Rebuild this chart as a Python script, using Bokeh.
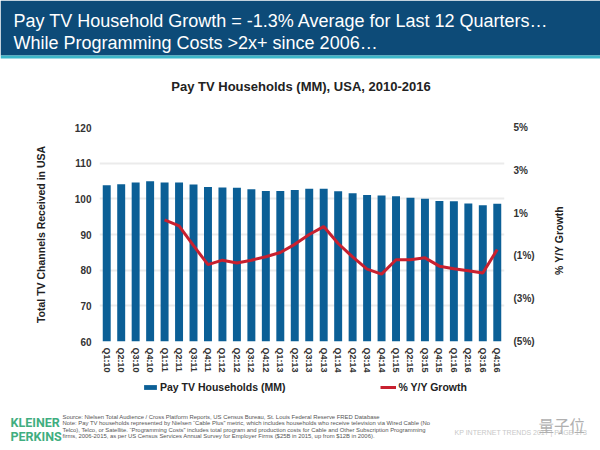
import math
from bokeh.plotting import figure
from bokeh.models import (Range1d, FactorRange, LinearAxis, FixedTicker, Legend,
                          LegendItem, Label, BoxAnnotation)
from bokeh.layouts import column, row
from bokeh.embed import file_html
from bokeh.resources import INLINE

# ---------------- data ----------------
quarters = ["Q1:10", "Q2:10", "Q3:10", "Q4:10",
            "Q1:11", "Q2:11", "Q3:11", "Q4:11",
            "Q1:12", "Q2:12", "Q3:12", "Q4:12",
            "Q1:13", "Q2:13", "Q3:13", "Q4:13",
            "Q1:14", "Q2:14", "Q3:14", "Q4:14",
            "Q1:15", "Q2:15", "Q3:15", "Q4:15",
            "Q1:16", "Q2:16", "Q3:16", "Q4:16"]
households_mm = [103.8, 104.1, 104.6, 104.9, 104.6, 104.6, 104.0, 103.3,
                 103.2, 103.1, 102.7, 102.2, 102.2, 102.5, 102.8, 102.8,
                 102.1, 101.6, 101.1, 100.9, 100.7, 100.3, 100.0, 99.4,
                 99.3, 98.7, 98.2, 98.6]
growth_quarters = quarters[4:]
growth_pct = [0.68, 0.40, -0.52, -1.41, -1.20, -1.33, -1.20, -1.04,
              -0.84, -0.46, 0.0, 0.37, -0.42, -1.05, -1.62, -1.85,
              -1.18, -1.18, -1.09, -1.48, -1.60, -1.69, -1.80, -0.70]
left_ticks = [60, 70, 80, 90, 100, 110, 120]
right_ticks = [-5, -3, -1, 1, 3, 5]
right_tick_labels = ["(5%)", "(3%)", "(1%)", "1%", "3%", "5%"]
series_names = ["Pay TV Households (MM)", "% Y/Y Growth"]

FONT = "Liberation Sans"
BLUE_BAR = "#0b5f96"
RED = "#c8202f"
HEADER_BLUE = "#0d4b78"
TEAL = "#3cb6c8"

HEAD_H = 105      # page y 0..105
MAIN_H = 270      # page y 105..375
LEG_H = 23        # page y 375..398
FOOT_H = 450 - HEAD_H - MAIN_H - LEG_H
MAIN_W = 548
SIDE_W = 600 - MAIN_W


def no_align(fig):
    try:
        fig.frame_align = False
    except AttributeError:
        pass
    return fig


def blank(width, height, x0, x1, y_top, y_bottom):
    f = figure(width=width, height=height,
               x_range=Range1d(x0, x1), y_range=Range1d(y_bottom, y_top),
               output_backend="svg", toolbar_location=None,
               x_axis_location=None, y_axis_location=None, min_border=0,
               background_fill_color="white", border_fill_color="white",
               outline_line_color=None)
    f.grid.visible = False
    return no_align(f)


# ---------------- header + chart title ----------------
header = blank(600, HEAD_H, 0, 600, 0, HEAD_H)
header.add_layout(BoxAnnotation(left=0, right=600, top=0, bottom=55,
                                fill_color=HEADER_BLUE, fill_alpha=1, line_color=None))
header.add_layout(BoxAnnotation(left=0, right=600, top=55, bottom=58,
                                fill_color=TEAL, fill_alpha=1, line_color=None))
for txt, yy in [("Pay TV Household Growth = -1.3% Average for Last 12 Quarters\u2026", 20.5),
                ("While Programming Costs >2x+ since 2006\u2026", 42.0)]:
    header.add_layout(Label(x=13, y=yy, text=txt, text_color="white",
                            text_font=FONT, text_font_size="18px",
                            text_baseline="middle", text_align="left"))
header.add_layout(Label(x=300.5, y=86, text="Pay TV Households (MM), USA, 2010-2016",
                        text_color="#222222", text_font=FONT, text_font_size="13px",
                        text_font_style="bold", text_baseline="middle", text_align="center"))

# ---------------- main chart ----------------
p = figure(width=MAIN_W, height=MAIN_H, frame_width=405, frame_height=214,
           height_policy="fixed", width_policy="fixed",
           x_range=FactorRange(*quarters), y_range=Range1d(60, 120),
           output_backend="svg", toolbar_location=None,
           min_border_left=99, min_border_right=44, min_border_top=22, min_border_bottom=34,
           background_fill_color="white", border_fill_color="white",
           outline_line_color=None)
no_align(p)

p.extra_y_ranges = {"pct": Range1d(-5, 5)}

p.vbar(x=quarters, top=households_mm, bottom=60, width=0.55,
       fill_color=BLUE_BAR, line_color=None)
p.line(x=growth_quarters, y=growth_pct, y_range_name="pct",
       line_color=RED, line_width=3)

p.xgrid.visible = False
p.ygrid.grid_line_color = "#ebebeb"
p.ygrid.grid_line_width = 2
p.yaxis.ticker = FixedTicker(ticks=left_ticks)

raxis = LinearAxis(y_range_name="pct", ticker=FixedTicker(ticks=right_ticks),
                   major_label_overrides={t: s for t, s in zip(right_ticks, right_tick_labels)})
p.add_layout(raxis, "right")

for ax in [p.xaxis[0], p.yaxis[0], raxis]:
    ax.axis_line_color = None
    ax.major_tick_line_color = None
    ax.minor_tick_line_color = None
    ax.major_tick_out = 0
    ax.major_tick_in = 0
    ax.major_label_text_font = FONT
    ax.major_label_text_font_style = "bold"
    ax.major_label_text_color = "#333333"
    ax.axis_label_text_font = FONT
    ax.axis_label_text_font_size = "10.5px"
    ax.axis_label_text_font_style = "bold"
    ax.axis_label_text_color = "#222222"

p.yaxis[0].major_label_text_font_size = "10px"
p.yaxis[0].major_label_standoff = 8
p.yaxis[0].axis_label = "Total TV Channels Received in USA"
p.yaxis[0].axis_label_standoff = 25

raxis.major_label_text_font_size = "10px"
raxis.major_label_standoff = 9

p.xaxis.major_label_orientation = "vertical"
p.xaxis.major_label_text_font_size = "9px"
p.xaxis.major_label_standoff = 6

# right-hand axis title, in its own strip beside the chart
side = blank(SIDE_W, MAIN_H, MAIN_W, 600, HEAD_H, HEAD_H + MAIN_H)
side.add_layout(Label(x=558, y=240, text="% Y/Y Growth", angle=math.pi / 2,
                      text_align="center", text_baseline="middle",
                      text_font=FONT, text_font_size="10.5px", text_font_style="bold",
                      text_color="#222222"))

# ---------------- legend strip ----------------
# same two series with the same styles; their values fall outside this strip's
# ranges, so only the legend swatches and labels are visible here
leg = figure(width=600, height=LEG_H,
             x_range=FactorRange(*quarters), y_range=Range1d(1000, 1001),
             output_backend="svg", toolbar_location=None,
             x_axis_location=None, y_axis_location=None, min_border=0,
             background_fill_color="white", border_fill_color="white",
             outline_line_color=None)
leg.grid.visible = False
no_align(leg)
leg_bar = leg.vbar(x=quarters, top=households_mm, bottom=60, width=0.55,
                   fill_color=BLUE_BAR, line_color=None)
leg_line = leg.line(x=growth_quarters, y=growth_pct, line_color=RED, line_width=3)
legend = Legend(items=[LegendItem(label=series_names[0], renderers=[leg_bar]),
                       LegendItem(label=series_names[1], renderers=[leg_line])],
                orientation="horizontal", location=(142, 5),
                glyph_width=16, glyph_height=6, label_standoff=2, spacing=95,
                padding=0, margin=0, label_height=12,
                label_text_font=FONT, label_text_font_size="10.5px",
                label_text_font_style="bold", label_text_color="#222222",
                border_line_color=None, background_fill_alpha=0)
leg.add_layout(legend)

# ---------------- footer ----------------
y0 = HEAD_H + MAIN_H + LEG_H
footer = blank(600, FOOT_H, 0, 600, y0, 450)

for txt, yy in [("KLEINER", 421.5), ("PERKINS", 436)]:
    footer.add_layout(Label(x=10, y=yy, text=txt, text_color="#3fae80",
                            text_font="Roboto", text_font_size="12.5px",
                            text_font_style="bold", text_baseline="middle"))

notes = [
    "Source: Nielsen Total Audience / Cross Platform Reports, US Census Bureau, St. Louis Federal Reserve FRED Database",
    "Note: Pay TV households represented by Nielsen \u201cCable Plus\u201d metric, which includes households who receive television via Wired Cable (No",
    "Telco), Telco, or Satellite. \u201cProgramming Costs\u201d includes total program and production costs for Cable and Other Subscription Programming",
    "firms, 2006-2015, as per US Census Services Annual Survey for Employer Firms ($25B in 2015, up from $12B in 2006).",
]
for i, txt in enumerate(notes):
    footer.add_layout(Label(x=62, y=416.5 + i * 6.4, text=txt, text_color="#555555",
                            text_font=FONT, text_font_size="5.9px", text_baseline="middle"))

footer.add_layout(Label(x=454, y=432, text="KP INTERNET TRENDS 2017  |  PAGE 173",
                        text_color="#c8c8c8", text_font=FONT, text_font_size="7px",
                        text_baseline="middle"))
footer.add_layout(Label(x=538, y=424, text="\u91cf\u5b50\u4f4d", text_color="#b0b0b0",
                        text_font="Noto Sans CJK SC", text_font_size="15.5px",
                        text_baseline="middle"))

layout = column(header, row(p, side, spacing=0), leg, footer, spacing=0)
open("out.html", "w").write(file_html(layout, INLINE))
